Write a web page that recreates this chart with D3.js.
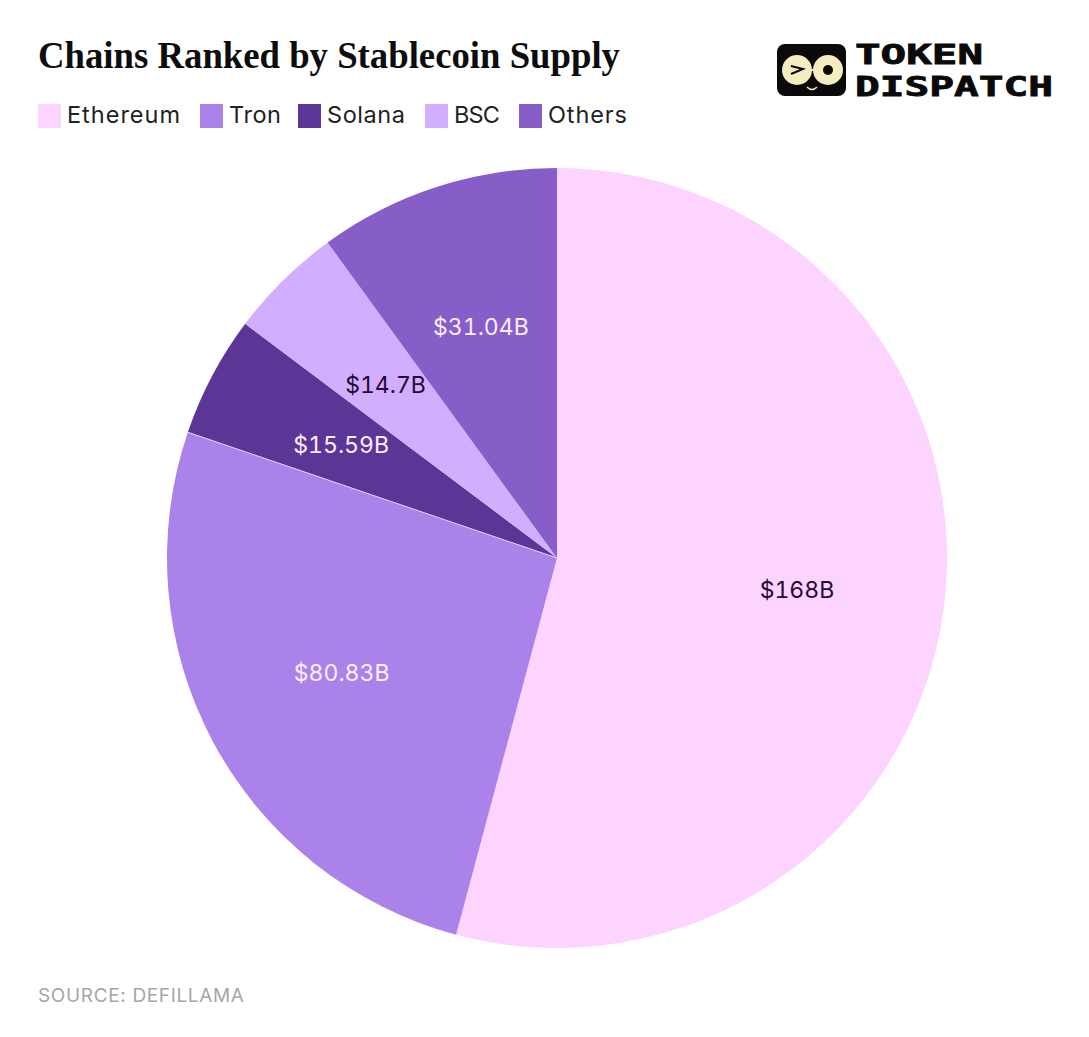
<!DOCTYPE html>
<html>
<head>
<meta charset="utf-8">
<script src="https://d3js.org/d3.v7.min.js"></script>
<style>
  html, body { margin: 0; padding: 0; background: #fff; }
  svg { display: block; }
</style>
</head>
<body>
<script>
var width = 1089, height = 1037;

// values, in billions
var chains = ["Ethereum", "Tron", "Solana", "BSC", "Others"];
var supply = [168, 80.83, 15.59, 14.7, 31.04];
var labels = ["$168B", "$80.83B", "$15.59B", "$14.7B", "$31.04B"];
var sliceColors = ["#fdd3ff", "#ab82ea", "#5c3697", "#d3aeff", "#875dc8"];
var labelColors = ["#1f0b33", "#fbeeff", "#fbeeff", "#1f0b33", "#fbeeff"];

// legend layout, kept apart from the data
var legendLeft = [38, 200, 298, 425, 519];
var legendTextWidth = [113, 52, 78, 46, 79];

var sansFont = "'Inter', 'Noto Sans', sans-serif";

var svg = d3.select("body")
    .append("svg")
    .attr("width", width)
    .attr("height", height);

// title
svg.append("text")
    .attr("x", 38)
    .attr("y", 68)
    .attr("textLength", 582)
    .attr("lengthAdjust", "spacingAndGlyphs")
    .attr("font-family", "'Liberation Serif', serif")
    .attr("font-weight", 700)
    .attr("font-size", 37.5)
    .attr("fill", "#0d0d0d")
    .text("Chains Ranked by Stablecoin Supply");

// legend
chains.forEach(function(name, i) {
    svg.append("rect")
        .attr("x", legendLeft[i])
        .attr("y", 104)
        .attr("width", 23)
        .attr("height", 24)
        .attr("fill", sliceColors[i]);
    svg.append("text")
        .attr("x", legendLeft[i] + 29)
        .attr("y", 123)
        .attr("textLength", legendTextWidth[i])
        .attr("font-family", sansFont)
        .attr("font-size", 23.5)
        .attr("fill", "#222")
        .text(name);
});

// pie
var cx = 557, cy = 558, radius = 390, labelRadius = 243;

var pie = d3.pie().sort(null);
var arc = d3.arc().innerRadius(0).outerRadius(radius);
var labelArc = d3.arc().innerRadius(labelRadius).outerRadius(labelRadius);

var g = svg.append("g")
    .attr("transform", "translate(" + cx + "," + cy + ")");

var slices = pie(supply);

g.selectAll("path")
    .data(slices)
    .enter()
    .append("path")
    .attr("d", arc)
    .attr("fill", function(d, i) { return sliceColors[i]; });

// thin pale edge between Tron and Solana
var edge = d3.pointRadial(slices[2].startAngle, radius);
g.append("line")
    .attr("x1", 0).attr("y1", 0)
    .attr("x2", edge[0]).attr("y2", edge[1])
    .attr("stroke", "#e6d4fb")
    .attr("stroke-width", 1);

g.selectAll("text")
    .data(slices)
    .enter()
    .append("text")
    .attr("transform", function(d) { return "translate(" + labelArc.centroid(d) + ")"; })
    .attr("text-anchor", "middle")
    .attr("dx", -1)
    .attr("dy", "0.36em")
    .attr("font-family", sansFont)
    .attr("font-size", 23)
    .style("font-variant-numeric", "tabular-nums")
    .attr("fill", function(d, i) { return labelColors[i]; })
    .text(function(d, i) { return labels[i]; });

// source
svg.append("text")
    .attr("x", 38)
    .attr("y", 1002)
    .attr("font-family", sansFont)
    .attr("font-size", 19)
    .attr("letter-spacing", 0.65)
    .attr("fill", "#a6a6a6")
    .text("SOURCE: DEFILLAMA");

// logo
var logo = svg.append("g");
logo.append("rect")
    .attr("x", 777).attr("y", 44)
    .attr("width", 69).attr("height", 52)
    .attr("rx", 8)
    .attr("fill", "#0a0a0a");
logo.append("circle").attr("cx", 797).attr("cy", 70).attr("r", 15).attr("fill", "#f5edc0");
logo.append("circle").attr("cx", 828).attr("cy", 70).attr("r", 15).attr("fill", "#f5edc0");
logo.append("line")
    .attr("x1", 810).attr("y1", 70).attr("x2", 815).attr("y2", 70)
    .attr("stroke", "#f5edc0").attr("stroke-width", 2);
logo.append("circle").attr("cx", 828).attr("cy", 70).attr("r", 5).attr("fill", "#0a0a0a");
logo.append("path")
    .attr("d", "M791,66 L803,69 L791,74")
    .attr("fill", "none").attr("stroke", "#0a0a0a").attr("stroke-width", 2);
logo.append("path")
    .attr("d", "M807,87 Q812,92 817,87")
    .attr("fill", "none").attr("stroke", "#f5edc0").attr("stroke-width", 1.5);

[["TOKEN", 64, 128], ["DISPATCH", 96, 198]].forEach(function(row) {
    logo.append("text")
        .attr("x", 855)
        .attr("y", row[1])
        .attr("textLength", row[2])
        .attr("lengthAdjust", "spacingAndGlyphs")
        .attr("font-family", "'DejaVu Sans Mono', monospace")
        .attr("font-weight", 700)
        .attr("font-size", 27)
        .attr("stroke", "#0a0a0a")
        .attr("stroke-width", 0.8)
        .attr("fill", "#0a0a0a")
        .text(row[0]);
});
</script>
</body>
</html>
